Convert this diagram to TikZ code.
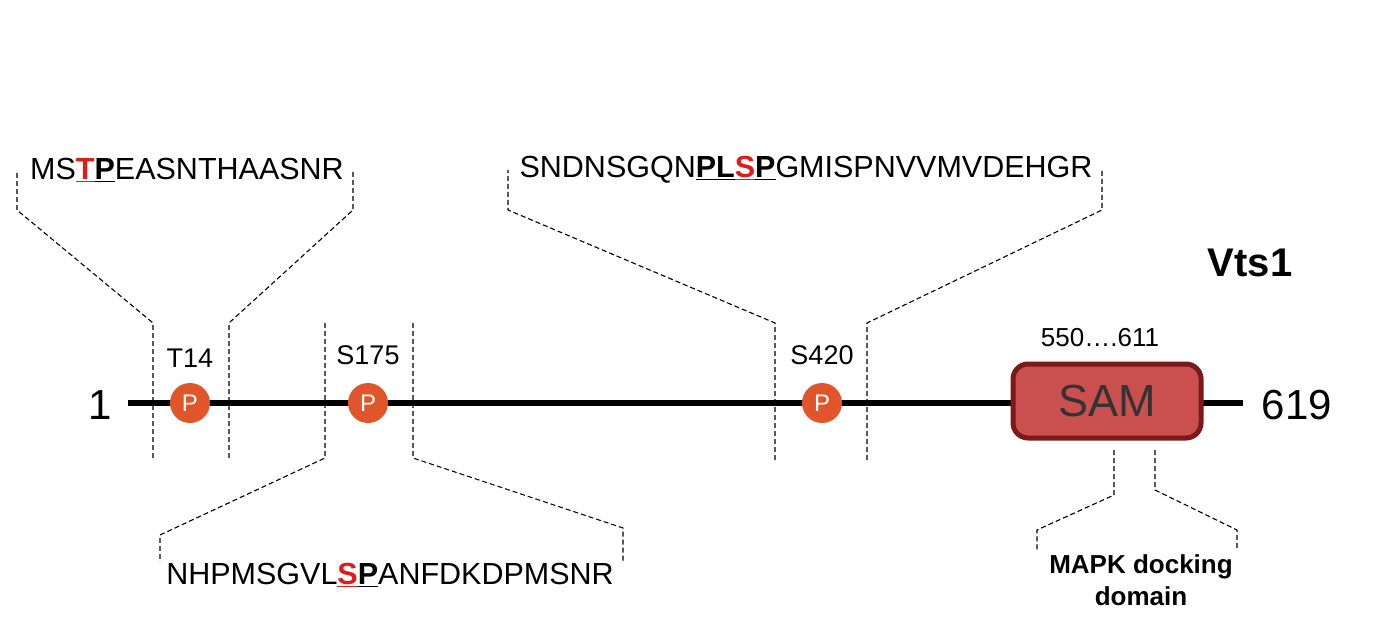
\documentclass[tikz,border=0pt]{standalone}
\usepackage{fontspec}
\setmainfont{Liberation Sans}
\definecolor{pcol}{HTML}{E0562A}
\definecolor{samfill}{HTML}{C9504F}
\definecolor{samedge}{HTML}{7A1A1A}
\definecolor{ured}{HTML}{E01B1B}
\newcommand{\rd}[1]{\textcolor{ured}{\underline{\textbf{#1}}}}
\newcommand{\bk}[1]{\underline{\textbf{#1}}}
\begin{document}
\begin{tikzpicture}[x=1pt,y=-1pt,
  dsh/.style={line width=1.1pt,dash pattern=on 5pt off 3pt},
  phos/.style={circle,fill=pcol,minimum size=40pt,inner sep=0pt,text=white,font=\fontsize{24}{24}\selectfont},
  seq/.style={font=\fontsize{30.5}{30.5}\selectfont,inner sep=0pt},
  lab/.style={font=\fontsize{27}{27}\selectfont,inner sep=0pt},
  big/.style={font=\fontsize{42}{42}\selectfont,inner sep=0pt}]
\useasboundingbox (0,0) rectangle (1388,631);
\coordinate (a) at (128,403);
\coordinate (b) at (1243,403);
\draw[line width=6pt] (a) -- (b);
\node[rounded corners=15pt,fill=samfill,draw=samedge,line width=5pt,minimum width=188pt,minimum height=74pt,font=\fontsize{45}{45}\selectfont,text=black!80] (sam) at (1107,401) {SAM};
\node[phos] (p1) at (190,403) {P};
\node[phos] (p2) at (368,403) {P};
\node[phos] (p3) at (822,403) {P};
\node[lab] (l1) at (190,358) {T14};
\node[lab] (l2) at (368,355) {S175};
\node[lab] (l3) at (822,355) {S420};
\node[big] (n1) at (100,405) {1};
\node[big] (n2) at (1297,405) {619};
\node[font=\fontsize{26}{26}\selectfont,inner sep=0pt] (rng) at (1100,338) {550\dots.611};
\node[font=\fontsize{40}{40}\selectfont\bfseries,inner sep=0pt] (vts) at (1250,263) {Vts1};
\node[seq] (s1) at (187,170) {MS\rd{T}\bk{P}EASNTHAASNR};
\node[seq] (s2) at (390,575) {NHPMSGVL\rd{S}\bk{P}ANFDKDPMSNR};
\node[seq] (s3) at (806,170) {SNDNSGQN\bk{PL}\rd{S}\bk{P}GMISPNVVMVDEHGR};
\node[font=\fontsize{26}{32}\selectfont\bfseries,align=center,inner sep=0pt] (mapk) at (1141,580) {MAPK docking\\domain};
\draw[dsh] (153,458) -- (153,323) -- (17,210) -- (17,170);
\draw[dsh] (229,458) -- (229,323) -- (353,210) -- (353,170);
\draw[dsh] (325,323) -- (325,458) -- (160,535) -- (160,562);
\draw[dsh] (413,323) -- (413,458) -- (623,528) -- (623,562);
\draw[dsh] (775,460) -- (775,323) -- (508,210) -- (508,170);
\draw[dsh] (867,460) -- (867,323) -- (1102,210) -- (1102,170);
\draw[dsh] (1114,450) -- (1114,495) -- (1037,530) -- (1037,550);
\draw[dsh] (1155,450) -- (1155,490) -- (1237,530) -- (1237,550);
\end{tikzpicture}
\end{document}
